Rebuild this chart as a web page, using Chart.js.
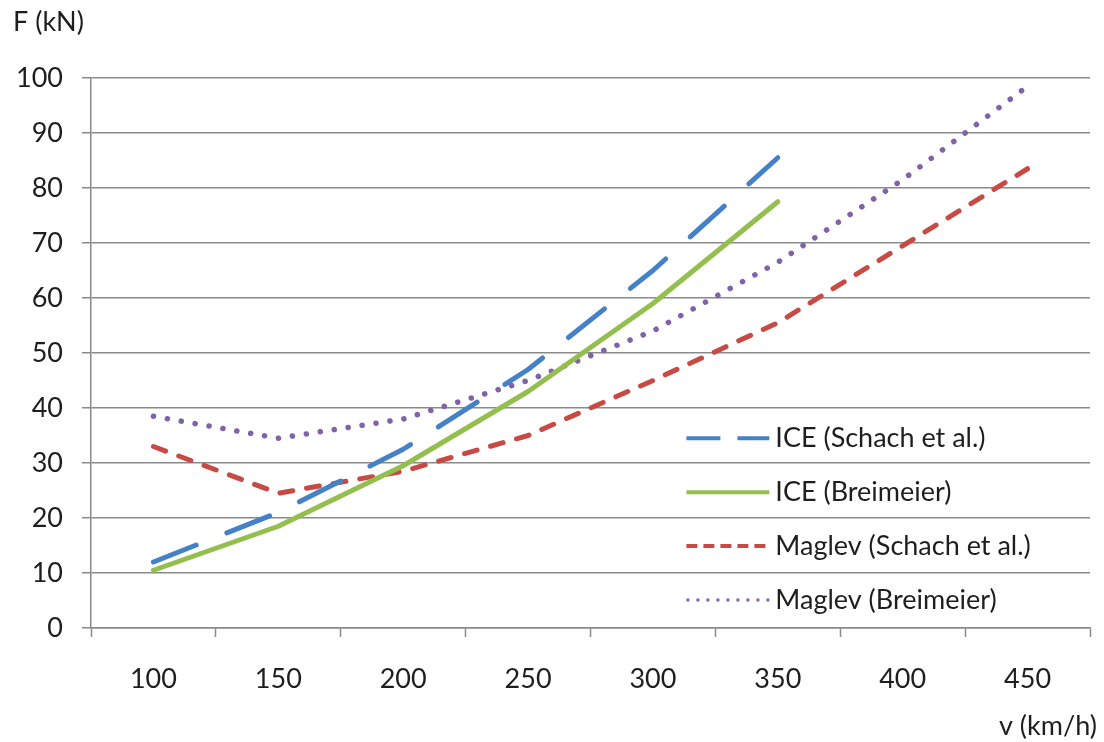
<!DOCTYPE html>
<html>
<head>
<meta charset="utf-8">
<script src="https://cdn.jsdelivr.net/npm/chart.js@4.4.1/dist/chart.umd.min.js"></script>
<style>
  html, body { margin: 0; padding: 0; background: #ffffff; }
  #wrap { width: 1104px; height: 742px; position: relative; }
</style>
</head>
<body>
<div id="wrap"><canvas id="c" width="1104" height="742"></canvas></div>
<script>
// Speed categories (km/h)
const speeds = ['100', '150', '200', '250', '300', '350', '400', '450'];

// Running resistance F (kN) per speed
const iceSchach      = [12, 21, 32.5, 47, 65, 85.5, null, null];
const iceBreimeier   = [10.5, 18.5, 29.5, 43, 59, 77.5, null, null];
const maglevSchach   = [33, 24.5, 28.5, 35, 45, 55.5, 69.5, 83.5];
const maglevBreimeier = [38.5, 34.5, 38, 45, 54, 66.5, 81.5, 98.5];

const seriesNames = [
  'ICE (Schach et al.)',
  'ICE (Breimeier)',
  'Maglev (Schach et al.)',
  'Maglev (Breimeier)'
];

const yTicks = [0, 10, 20, 30, 40, 50, 60, 70, 80, 90, 100];

const FONT = 'Lato, "Open Sans", sans-serif';
const TEXT = '#1e1e1e';
const GRID = '#8a8a8a';

// Legend drawn inside the plot area, lower right
const legendStyles = [
  { color: '#4581c6', width: 4, dash: [34, 17], cap: 'butt' },
  { color: '#94bf4e', width: 4, dash: [], cap: 'butt' },
  { color: '#c84a45', width: 4, dash: [11, 6], cap: 'butt' },
  { color: '#8062a8', width: 3, dash: [3, 7], cap: 'butt' }
];

const innerLegend = {
  id: 'innerLegend',
  afterDatasetsDraw(chart) {
    const { ctx, chartArea } = chart;
    const w = chartArea.right - chartArea.left;
    const h = chartArea.bottom - chartArea.top;
    const x0 = chartArea.left + w * 0.596;
    const x1 = chartArea.left + w * 0.679;
    ctx.save();
    seriesNames.forEach((name, i) => {
      const y = chartArea.top + h * (0.655 + i * 0.098);
      const s = legendStyles[i];
      ctx.beginPath();
      ctx.setLineDash(s.dash);
      ctx.lineCap = s.cap;
      ctx.lineWidth = s.width;
      ctx.strokeStyle = s.color;
      ctx.moveTo(x0, y);
      ctx.lineTo(x1, y);
      ctx.stroke();
      ctx.setLineDash([]);
      ctx.fillStyle = TEXT;
      ctx.font = '27px ' + FONT;
      ctx.textAlign = 'left';
      ctx.textBaseline = 'middle';
      ctx.fillText(name, x1 + 6, y);
    });
    ctx.restore();
  }
};

// Axis titles: force label above the y axis, speed label under the x axis end
const axisTitles = {
  id: 'axisTitles',
  afterDraw(chart) {
    const { ctx } = chart;
    ctx.save();
    ctx.fillStyle = TEXT;
    ctx.font = '27px ' + FONT;
    ctx.textBaseline = 'middle';
    ctx.textAlign = 'left';
    ctx.fillText('F (kN)', 13, 22);
    ctx.textAlign = 'right';
    ctx.fillText('v (km/h)', 1097, 726);
    ctx.restore();
  }
};

function lineSet(label, data, color, dash, width) {
  return {
    label, data,
    borderColor: color,
    backgroundColor: color,
    borderWidth: width,
    borderDash: dash,
    borderCapStyle: 'round',
    borderJoinStyle: 'round',
    pointRadius: 0,
    tension: 0,
    fill: false,
    spanGaps: false
  };
}

new Chart(document.getElementById('c'), {
  type: 'line',
  data: {
    labels: speeds,
    datasets: [
      lineSet(seriesNames[0], iceSchach, '#4581c6', [46, 33], 5),
      lineSet(seriesNames[1], iceBreimeier, '#94bf4e', [], 5),
      lineSet(seriesNames[2], maglevSchach, '#c84a45', [13, 14], 5),
      lineSet(seriesNames[3], maglevBreimeier, '#8062a8', [0.1, 14], 5.5)
    ]
  },
  options: {
    responsive: false,
    animation: false,
    devicePixelRatio: 1,
    layout: { padding: { top: 78, right: 14, left: 0, bottom: 0 } },
    plugins: {
      legend: { display: false },
      tooltip: { enabled: false },
      title: { display: false }
    },
    scales: {
      x: {
        type: 'category',
        offset: true,
        grid: {
          offset: true,
          drawOnChartArea: false,
          drawTicks: true,
          tickLength: 9,
          tickWidth: 1.5,
          color: GRID
        },
        border: { display: true, color: GRID, width: 1.5 },
        ticks: {
          color: TEXT,
          font: { family: FONT, size: 27 },
          padding: 26,
          maxRotation: 0
        },
        afterFit(scale) { scale.height = 114; }
      },
      y: {
        min: 0,
        max: 100,
        afterBuildTicks(scale) { scale.ticks = yTicks.map(v => ({ value: v })); },
        grid: {
          color: GRID,
          lineWidth: 1.5,
          tickLength: 9,
          drawTicks: true
        },
        border: { display: true, color: GRID, width: 1.5 },
        ticks: {
          color: TEXT,
          font: { family: FONT, size: 27 },
          padding: 19
        },
        afterFit(scale) { scale.width = 91; }
      }
    }
  },
  plugins: [innerLegend, axisTitles]
});
</script>
</body>
</html>
